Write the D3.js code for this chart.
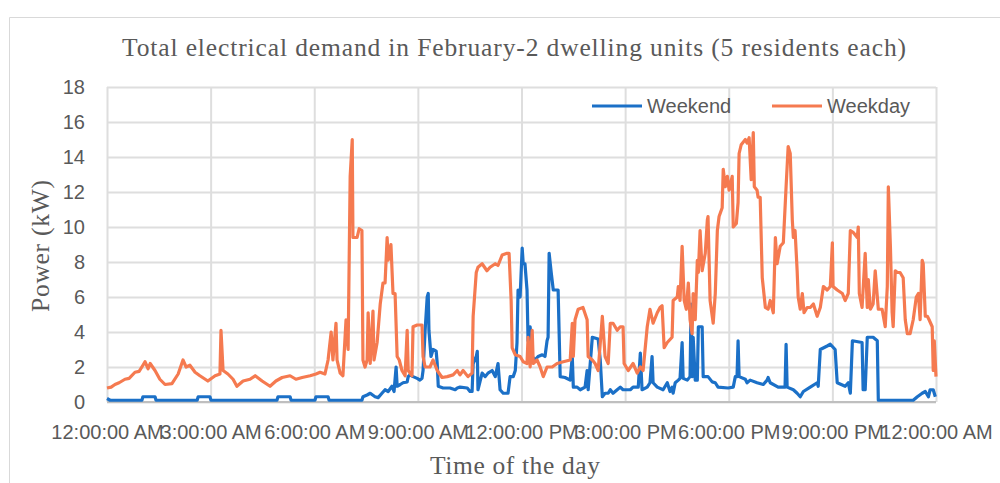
<!DOCTYPE html>
<html lang="en">
<head>
    <meta charset="UTF-8">
    <title>Total electrical demand</title>
    <script src="https://cdn.jsdelivr.net/npm/d3@7"></script>
    <style>
        body { margin: 0; background: #fff; }
        .grid line { stroke: #dedede; stroke-width: 2px; }
        .grid .domain { display: none; }
        .tick text { font-family: "Liberation Sans", Arial, sans-serif; font-size: 20px; fill: #595959; }
        .serif { font-family: "Liberation Serif", "Times New Roman", serif; fill: #595959; }
        .series { fill: none; stroke-width: 3.2px; stroke-linejoin: round; }
    </style>
</head>
<body>
<script>
    // hours of the day and kW
    const weekendHour = [0.00, 0.09, 1.01, 1.04, 1.39, 1.42, 2.61, 2.64, 2.98, 3.01, 4.92, 4.95, 5.30, 5.33, 6.02, 6.05, 6.40, 6.43,
        7.38, 7.41, 7.53, 7.62, 7.76, 7.85, 7.96, 8.05, 8.14, 8.25, 8.31, 8.37, 8.40, 8.49, 8.57, 8.69, 8.72, 8.77, 8.86, 8.98,
        9.06, 9.12, 9.15, 9.21, 9.27, 9.30, 9.32, 9.38, 9.44, 9.53, 9.56, 9.59, 9.73, 9.93, 10.08, 10.14, 10.22, 10.43, 10.51,
        10.57, 10.60, 10.69, 10.72, 10.74, 10.86, 10.95, 11.03, 11.15, 11.24, 11.32, 11.38, 11.47, 11.61, 11.67, 11.76, 11.82,
        11.87, 11.90, 11.96, 12.02, 12.05, 12.10, 12.16, 12.19, 12.25, 12.31, 12.39, 12.48, 12.60, 12.68, 12.74, 12.77, 12.80,
        12.86, 12.92, 13.06, 13.12, 13.26, 13.41, 13.47, 13.50, 13.61, 13.70, 13.84, 13.90, 13.93, 14.05, 14.22, 14.28, 14.34,
        14.42, 14.51, 14.57, 14.65, 14.77, 14.86, 14.94, 15.15, 15.23, 15.38, 15.44, 15.49, 15.64, 15.72, 15.78, 15.81, 15.93,
        16.10, 16.22, 16.30, 16.36, 16.39, 16.45, 16.54, 16.59, 16.65, 16.68, 16.80, 16.88, 16.91, 16.94, 16.97, 17.03, 17.09,
        17.12, 17.23, 17.26, 17.40, 17.52, 17.61, 17.69, 17.98, 18.13, 18.19, 18.24, 18.27, 18.30, 18.48, 18.53, 18.62, 18.82,
        19.00, 19.11, 19.14, 19.20, 19.43, 19.63, 19.66, 19.69, 19.87, 19.98, 20.07, 20.16, 20.36, 20.56, 20.59, 20.65, 20.85,
        20.94, 21.08, 21.14, 21.37, 21.46, 21.52, 21.58, 21.86, 21.89, 21.95, 22.01, 22.18, 22.30, 22.33, 23.34, 23.46, 23.60,
        23.69, 23.78, 23.83, 23.92, 23.98]
    const weekendKW = [0.2, 0.1, 0.1, 0.3, 0.3, 0.1, 0.1, 0.3, 0.3, 0.1, 0.1, 0.3, 0.3, 0.1, 0.1, 0.3, 0.3, 0.1,
        0.1, 0.3, 0.4, 0.5, 0.3, 0.25, 0.5, 0.7, 0.6, 0.9, 0.6, 2.0, 0.9, 1.0, 1.1, 1.15, 1.45, 1.55, 1.45, 1.35,
        1.25, 1.35, 1.8, 4.1, 6.0, 6.2, 4.1, 2.6, 3.0, 2.9, 2.2, 0.9, 0.8, 0.8, 0.7, 0.8, 0.85, 0.8, 0.6,
        0.6, 2.2, 2.6, 2.9, 0.7, 1.65, 1.45, 1.65, 1.8, 1.45, 2.2, 0.7, 0.5, 0.5, 1.45, 1.45, 1.8,
        3.4, 6.4, 6.0, 8.8, 7.9, 7.9, 6.4, 3.5, 4.3, 2.6, 2.4, 2.6, 2.7, 2.6, 3.5, 3.7, 8.5,
        7.4, 6.4, 6.4, 1.45, 1.4, 1.25, 2.6, 0.85, 0.85, 0.7, 0.85, 1.8, 0.7, 3.7, 3.6, 2.4, 0.3,
        0.5, 0.5, 0.7, 0.5, 0.7, 0.85, 0.7, 0.7, 0.85, 0.85, 2.8, 0.7, 0.85, 1.1, 2.6, 1.1, 0.85,
        0.7, 1.1, 0.6, 0.85, 0.5, 1.1, 1.25, 1.35, 3.4, 1.35, 1.25, 1.45, 5.6, 1.45, 3.7, 1.25, 1.25,
        4.3, 4.3, 1.45, 1.45, 1.15, 1.1, 0.85, 0.8, 0.85, 1.45, 1.45, 3.5, 1.45, 1.3, 1.1, 1.25, 1.1,
        1.0, 1.25, 1.4, 1.1, 0.85, 0.85, 3.3, 0.85, 0.7, 0.5, 0.3, 0.6, 0.85, 1.1, 0.9, 3.0, 3.2,
        3.3, 3.0, 1.1, 0.9, 1.1, 0.5, 3.5, 3.4, 0.7, 0.7, 3.7, 3.7, 3.5, 0.1, 0.1, 0.3, 0.5,
        0.6, 0.3, 0.7, 0.7, 0.3]

    const weekdayHour = [0.00, 0.12, 0.23, 0.35, 0.52, 0.64, 0.81, 0.93, 1.04, 1.10, 1.19, 1.25, 1.39, 1.53, 1.68, 1.88,
        2.06, 2.20, 2.29, 2.40, 2.55, 2.69, 2.92, 3.13, 3.27, 3.30, 3.36, 3.50, 3.65, 3.76, 3.94, 4.14, 4.29, 4.49, 4.72,
        4.89, 5.07, 5.30, 5.47, 5.65, 5.88, 6.05, 6.17, 6.31, 6.40, 6.49, 6.54, 6.63, 6.66, 6.75, 6.83, 6.92, 6.98, 7.04,
        7.10, 7.12, 7.24, 7.30, 7.38, 7.41, 7.47, 7.53, 7.56, 7.62, 7.70, 7.73, 7.82, 7.91, 7.99, 8.05, 8.11, 8.14, 8.22,
        8.28, 8.34, 8.40, 8.46, 8.54, 8.63, 8.69, 8.72, 8.83, 8.86, 8.98, 9.12, 9.15, 9.21, 9.35, 9.44, 9.56, 9.70, 9.85,
        10.02, 10.14, 10.22, 10.31, 10.45, 10.57, 10.60, 10.69, 10.74, 10.86, 11.00, 11.09, 11.24, 11.32, 11.44, 11.58,
        11.64, 11.70, 11.73, 11.82, 11.96, 12.05, 12.16, 12.19, 12.25, 12.31, 12.34, 12.45, 12.54, 12.63, 12.74, 12.89,
        13.03, 13.21, 13.41, 13.47, 13.50, 13.55, 13.64, 13.78, 13.90, 13.93, 14.05, 14.13, 14.22, 14.34, 14.42, 14.51,
        14.57, 14.65, 14.77, 14.86, 14.94, 14.97, 15.09, 15.23, 15.35, 15.44, 15.52, 15.64, 15.72, 15.81, 15.93, 16.01,
        16.07, 16.13, 16.22, 16.36, 16.39, 16.51, 16.54, 16.59, 16.65, 16.71, 16.77, 16.83, 16.88, 16.94, 16.97, 17.03,
        17.09, 17.12, 17.17, 17.23, 17.32, 17.38, 17.40, 17.46, 17.55, 17.61, 17.67, 17.72, 17.81, 17.84, 17.90, 17.96,
        18.01, 18.10, 18.13, 18.22, 18.27, 18.30, 18.36, 18.48, 18.53, 18.59, 18.65, 18.71, 18.74, 18.82, 18.85, 18.91,
        18.97, 19.06, 19.14, 19.20, 19.29, 19.35, 19.40, 19.49, 19.58, 19.66, 19.72, 19.78, 19.84, 19.87, 19.92, 19.98,
        20.01, 20.07, 20.13, 20.18, 20.27, 20.36, 20.45, 20.56, 20.65, 20.74, 20.85, 20.94, 21.00, 21.02, 21.14, 21.29,
        21.37, 21.46, 21.52, 21.60, 21.72, 21.75, 21.78, 21.86, 21.95, 22.01, 22.04, 22.10, 22.18, 22.24, 22.33, 22.44,
        22.53, 22.59, 22.62, 22.68, 22.73, 22.76, 22.82, 22.88, 22.96, 23.05, 23.11, 23.17, 23.25, 23.34, 23.43, 23.49,
        23.54, 23.60, 23.63, 23.69, 23.75, 23.80, 23.89, 23.92, 23.95, 24.00]
    const weekdayKW = [0.8, 0.85, 1.0, 1.1, 1.3, 1.35, 1.7, 1.75, 2.1, 2.3, 1.9, 2.2, 1.8, 1.3, 1.0, 1.05,
        1.6, 2.4, 2.0, 2.1, 1.7, 1.5, 1.2, 1.5, 1.6, 4.1, 1.8, 1.6, 1.3, 0.9, 1.2, 1.3, 1.5, 1.2, 0.9,
        1.2, 1.4, 1.5, 1.3, 1.4, 1.5, 1.6, 1.7, 1.6, 2.4, 4.0, 2.4, 4.5, 2.4, 1.65, 1.5, 4.7, 3.0, 12.9,
        15.0, 9.4, 9.4, 9.9, 9.8, 2.4, 2.0, 2.4, 5.1, 2.2, 5.2, 2.4, 3.4, 5.6, 6.8, 6.8, 9.4, 8.1, 9.0,
        6.2, 6.2, 2.6, 2.4, 1.8, 1.5, 4.1, 1.8, 1.5, 4.3, 4.4, 4.4, 2.6, 2.0, 2.0, 2.4, 1.8, 1.4, 1.45,
        1.55, 1.8, 1.55, 1.8, 1.45, 1.65, 4.9, 7.4, 7.7, 7.9, 7.5, 7.7, 7.9, 7.8, 8.4, 8.5,
        8.5, 5.8, 3.1, 2.7, 2.6, 2.3, 2.2, 3.7, 2.0, 4.1, 2.2, 2.4, 2.0, 1.45, 2.0, 2.0,
        2.2, 2.3, 2.4, 4.5, 2.6, 4.7, 5.3, 5.4, 4.7, 2.6, 2.4, 2.2, 1.8, 4.9, 2.6, 2.2,
        4.5, 4.5, 4.1, 4.3, 4.3, 2.2, 1.8, 2.2, 1.65, 2.0, 1.8, 4.3, 5.3, 4.5, 5.1, 5.4,
        5.5, 3.1, 3.4, 3.7, 5.8, 6.0, 6.6, 5.8, 8.9, 5.8, 5.3, 6.8, 4.7, 3.9, 6.2, 4.7,
        8.1, 7.4, 9.8, 7.5, 8.5, 10.4, 10.6, 5.8, 4.5, 6.2, 9.8, 10.6, 11.1, 13.3, 12.3, 12.9,
        12.1, 12.9, 10.0, 10.2, 11.4, 14.2, 14.7, 15.0, 14.8, 15.1, 12.7, 15.4, 12.3, 12.1, 11.7, 11.7,
        7.1, 5.4, 5.3, 5.8, 5.1, 9.4, 7.9, 8.9, 9.1, 12.3, 14.6, 14.2, 10.4, 9.4, 9.8, 7.5,
        6.0, 5.3, 6.2, 5.1, 5.4, 5.4, 5.6, 4.9, 5.4, 6.6, 6.4, 6.6, 9.1, 6.6, 6.4, 6.2,
        5.8, 6.2, 9.8, 9.7, 9.4, 10.0, 6.2, 5.4, 8.5, 5.4, 7.0, 5.3, 5.6, 7.5, 5.3, 5.3,
        4.3, 6.6, 12.3, 8.9, 5.1, 4.3, 7.5, 7.4, 7.4, 7.1, 4.7, 3.9, 3.9, 4.7, 6.0, 6.2,
        4.7, 8.1, 7.9, 4.9, 4.9, 4.7, 4.3, 1.8, 3.5, 1.45]

    const seriesNames = ["Weekend", "Weekday"]
    const seriesColors = ["#1b70c7", "#f57a50"]
    const hourTicks = [0, 3, 6, 9, 12, 15, 18, 21, 24]
    const hourLabels = ["12:00:00 AM", "3:00:00 AM", "6:00:00 AM", "9:00:00 AM", "12:00:00 PM",
        "3:00:00 PM", "6:00:00 PM", "9:00:00 PM", "12:00:00 AM"]
    const kwTicks = [0, 2, 4, 6, 8, 10, 12, 14, 16, 18]

    const width = 1000, height = 483
    const plot = {left: 107, right: 936, top: 87, bottom: 402}

    const svg = d3.select("body").append("svg").attr("width", width).attr("height", height)

    // outer chart frame (only top and left edges fall inside the picture)
    svg.append("path").attr("d", "M9.5,483V17.5H1000").attr("fill", "none").attr("stroke", "#d9d9d9")

    const x = d3.scaleLinear().domain([0, 24]).range([plot.left, plot.right])
    const y = d3.scaleLinear().domain([0, 18]).range([plot.bottom, plot.top])

    // horizontal grid + y labels
    svg.append("g").attr("class", "grid")
        .attr("transform", `translate(${plot.left},0)`)
        .call(d3.axisLeft(y).tickValues(kwTicks).tickSize(-(plot.right - plot.left)).tickPadding(22))

    // vertical grid + x labels
    svg.append("g").attr("class", "grid")
        .attr("transform", `translate(0,${plot.bottom})`)
        .call(d3.axisBottom(x).tickValues(hourTicks).tickSize(-(plot.bottom - plot.top)).tickPadding(23)
            .tickFormat((d, i) => hourLabels[i]))

    // bottom axis line
    svg.append("line").attr("x1", plot.left).attr("x2", plot.right).attr("y1", plot.bottom).attr("y2", plot.bottom)
        .attr("stroke", "#bfbfbf").attr("stroke-width", 2)

    const line = d3.line().x(d => x(d[0])).y(d => y(d[1]))
    const series = [
        d3.zip(weekendHour, weekendKW),
        d3.zip(weekdayHour, weekdayKW)
    ]
    series.forEach((s, i) => {
        svg.append("path").attr("class", "series").attr("d", line(s)).attr("stroke", seriesColors[i])
    })

    // legend
    const legendX = [592, 772]
    seriesNames.forEach((name, i) => {
        svg.append("line").attr("x1", legendX[i]).attr("x2", legendX[i] + 50).attr("y1", 106).attr("y2", 106)
            .attr("stroke", seriesColors[i]).attr("stroke-width", 3)
        svg.append("text").attr("x", legendX[i] + 55).attr("y", 106).attr("dy", "0.35em")
            .style("font-family", "Liberation Sans, Arial, sans-serif").style("font-size", "20px")
            .style("fill", "#595959").text(name)
    })

    // titles
    svg.append("text").attr("class", "serif").attr("x", 514).attr("y", 56).attr("text-anchor", "middle")
        .style("font-size", "25.5px").attr("textLength", 784).attr("lengthAdjust", "spacing")
        .text("Total electrical demand in February-2 dwelling units (5 residents each)")
    svg.append("text").attr("class", "serif").attr("text-anchor", "middle")
        .attr("transform", "translate(49,246) rotate(-90)")
        .style("font-size", "25.5px").attr("textLength", 132).attr("lengthAdjust", "spacing")
        .text("Power (kW)")
    svg.append("text").attr("class", "serif").attr("x", 515).attr("y", 474).attr("text-anchor", "middle")
        .style("font-size", "25.5px").attr("textLength", 170).attr("lengthAdjust", "spacing")
        .text("Time of the day")
</script>
</body>
</html>
